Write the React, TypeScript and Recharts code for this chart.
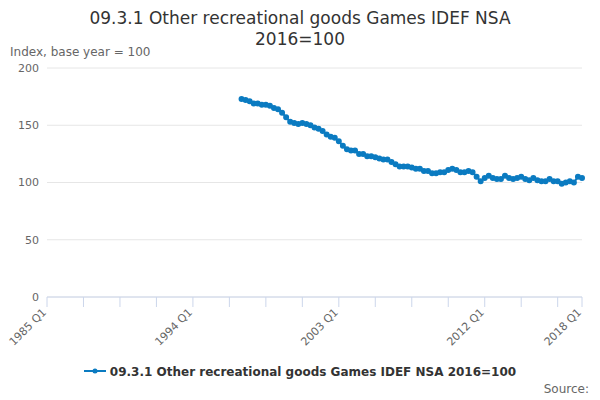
import React from 'react'
import { CartesianGrid, Line, LineChart, XAxis, YAxis } from 'recharts'

const seriesName = '09.3.1 Other recreational goods Games IDEF NSA 2016=100'

// 1997 Q1 .. 2018 Q1
const values = [
  173, 172, 171, 169,
  169, 168, 168, 167,
  165, 164, 161, 157,
  153, 152, 151, 152,
  151, 150, 148, 147,
  145, 142, 140, 139,
  136, 132, 129, 128,
  128, 125, 125, 123,
  123, 122, 121, 120,
  120, 118, 116, 114,
  114, 114, 113, 112,
  112, 110, 110, 108,
  108, 109, 109, 111,
  112, 111, 109, 109,
  110, 109, 105, 101,
  104, 106, 104, 103,
  103, 106, 104, 103,
  104, 105, 103, 102,
  104, 102, 101, 101,
  103, 101, 101, 99,
  100, 101, 100, 105,
  104,
]

const quarters: string[] = []
for (let y = 1985; y <= 2018; y++) {
  for (let q = 1; q <= 4; q++) {
    if (y === 2018 && q > 1) break
    quarters.push(`${y} Q${q}`)
  }
}

const firstDataIndex = quarters.indexOf('1997 Q1')
const data = quarters.map((name, i) => ({
  name,
  value: i >= firstDataIndex ? values[i - firstDataIndex] : null,
}))

const labelTicks = ['1985 Q1', '1994 Q1', '2003 Q1', '2012 Q1', '2018 Q1']
const xTicks = quarters.filter((_, i) => i % 9 === 0).concat(['2018 Q1'])
const yTicks = [0, 50, 100, 150, 200]

const font = '"DejaVu Sans", sans-serif'

const AngledTick = (props: any) => {
  const { x, y, payload } = props
  if (!labelTicks.includes(payload.value)) return null
  return (
    <text x={x} y={y + 4} transform={`rotate(-45 ${x} ${y + 4})`} textAnchor="end" fontSize={11} fill="#666" fontFamily={font}>
      {payload.value}
    </text>
  )
}

const App = () => {
  return (
    <div style={{ position: 'absolute', left: 0, top: 0, width: 600, height: 400, background: '#fff', fontFamily: font }}>
      <div style={{ position: 'absolute', top: 8, width: 600, textAlign: 'center', fontSize: 17, color: '#333', lineHeight: '21px' }}>
        09.3.1 Other recreational goods Games IDEF NSA<br />2016=100
      </div>
      <div style={{ position: 'absolute', left: 10, top: 45, fontSize: 12, color: '#666' }}>Index, base year = 100</div>
      <LineChart width={600} height={400} data={data} margin={{ top: 68, right: 18, left: 7, bottom: 53 }}>
        <CartesianGrid vertical={false} stroke="#e6e6e6" />
        <XAxis dataKey="name" ticks={xTicks} interval={0} tick={<AngledTick />} height={50} stroke="#ccd6eb" tickLine={{ stroke: '#ccd6eb' }} tickSize={10} />
        <YAxis domain={[0, 200]} ticks={yTicks} width={40} axisLine={false} tickLine={false} tick={{ fontSize: 11, fill: '#666', fontFamily: font }} />
        <Line dataKey="value" stroke="#0b7bc1" strokeWidth={2} dot={{ r: 2, fill: '#0b7bc1', stroke: '#0b7bc1' }} connectNulls={false} isAnimationActive={false} />
      </LineChart>
      <div style={{ position: 'absolute', top: 365, width: 600, textAlign: 'center', fontSize: 12, fontWeight: 'bold', color: '#333' }}>
        <svg width={22} height={10} style={{ marginRight: 4 }}>
          <line x1={0} y1={5} x2={22} y2={5} stroke="#0b7bc1" strokeWidth={2} />
          <circle cx={11} cy={5} r={2.5} fill="#0b7bc1" />
        </svg>
        {seriesName}
      </div>
      <div style={{ position: 'absolute', right: 11, top: 382, fontSize: 12, color: '#666' }}>Source:</div>
    </div>
  )
}

export default App
